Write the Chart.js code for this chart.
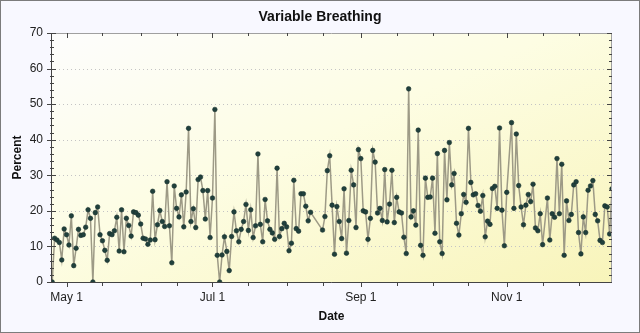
<!DOCTYPE html>
<html><head><meta charset="utf-8">
<script src="https://cdn.jsdelivr.net/npm/chart.js@4.4.1/dist/chart.umd.min.js"></script>
<style>html,body{margin:0;padding:0;background:#f8f8ff;}#wrap{width:640px;height:333px;}</style>
</head><body><div id="wrap"><canvas id="c" width="640" height="333"></canvas></div>
<script>
const dates = [
'04-25','04-26','04-27','04-28','04-29','04-30',
'05-01','05-02','05-03','05-04','05-05','05-06','05-07','05-08','05-09','05-10','05-11','05-12','05-13','05-14','05-15','05-16','05-17','05-18','05-19','05-20','05-21','05-22','05-23','05-24','05-25','05-26','05-27','05-28','05-29','05-30','05-31',
'06-01','06-02','06-03','06-04','06-05','06-06','06-07','06-08','06-09','06-10','06-11','06-12','06-13','06-14','06-15','06-16','06-17','06-18','06-19','06-20','06-21','06-22','06-23','06-24','06-25','06-26','06-27','06-28','06-29','06-30',
'07-01','07-02','07-03','07-04','07-05','07-06','07-07','07-08','07-09','07-10','07-11','07-12','07-13','07-14','07-15','07-16','07-17','07-18','07-19','07-20','07-21','07-22','07-23','07-24','07-25','07-26','07-27','07-28','07-29','07-30','07-31',
'08-01','08-02','08-03','08-04','08-05','08-06','08-07','08-08','08-09','08-10','08-11','08-16','08-17','08-18','08-19','08-20','08-21','08-22','08-23','08-24','08-25','08-26','08-27','08-28','08-29','08-30','08-31',
'09-01','09-02','09-03','09-04','09-05','09-06','09-07','09-08','09-09','09-10','09-11','09-12','09-13','09-14','09-15','09-16','09-17','09-18','09-19','09-20','09-21','09-22','09-23','09-24','09-25','09-26','09-27','09-28','09-29','09-30',
'10-01','10-02','10-03','10-04','10-05','10-06','10-07','10-08','10-09','10-10','10-11','10-12','10-13','10-14','10-15','10-16','10-17','10-18','10-19','10-20','10-21','10-22','10-23','10-24','10-25','10-26','10-27','10-28','10-29','10-30','10-31',
'11-01','11-03','11-04','11-05','11-06','11-07','11-08','11-09','11-10','11-11','11-12','11-13','11-14','11-15','11-16','11-18','11-19','11-20','11-21','11-22','11-23','11-24','11-25','11-26','11-27','11-28','11-29','11-30',
'12-01','12-02','12-03','12-04','12-05','12-06','12-07','12-08','12-09','12-10','12-11','12-12','12-13','12-14','12-15'
];
const values = [
0,12.3,11.8,11.1,6.2,14.9,
13.3,10.4,18.6,4.6,9.5,14.8,13.1,13.3,15.4,20.3,17.9,0,19.5,21.1,13.3,11.6,8.9,6.1,13.6,13.3,14.4,18.2,8.7,20.3,8.5,17.9,15.9,12.9,19.7,19.5,18.8,
16.3,12.3,12.1,10.6,11.8,25.5,11.9,16.1,20.1,17.0,15.6,28.2,15.8,5.4,27,20.7,18.3,24.5,15.5,25.3,43.2,17,20.6,15.3,28.8,29.5,25.7,17.7,25.7,12.5,
23.6,48.5,7.5,0,7.6,12.7,8.6,3.2,12.8,19.7,14.4,11.3,14.8,17,21.8,14.5,20.3,12.5,15.8,36,16.2,11.3,23.2,17.2,14.8,13.8,12,32,12.8,15,16.5,
15.5,8.8,10.9,28.6,15,14.3,24.8,24.8,21.3,17.2,19.6,14.6,18.4,31.3,35.5,21.6,7.8,21.2,17,12.2,26.2,8.1,17.3,31.4,27.3,15.3,37.2,
34.7,20,19.7,12,17.9,37,33.7,19.4,20.7,17.3,31.6,16.9,21.9,31.4,16.7,23.8,19.7,19.4,12.6,8,54.3,18.3,20,16,42.7,10.3,7.5,29.2,23.8,23.9,
29.2,13.7,36.1,11.3,8,37,23.1,39.2,27.3,30.5,16.5,13.2,19.2,24.6,22.4,43.2,28,24.5,24.8,21.5,19.9,24.3,12.7,17.1,16.2,26.3,26.9,20.7,43.3,20.2,10.2,
25.2,44.8,20.7,41.6,27.1,21.1,16.1,21.6,24.6,22.6,27.5,15.2,14.4,19.2,10.5,23.6,11.8,19.2,18.2,34.7,19.2,33.1,7.5,22.8,17.3,19,27.3,28.2,
13.9,7.9,18.3,13.9,25.8,27,28.5,19,17.2,11.7,11.1,21.4,21.1,13.5,26.2
];
const xTickDates = ['05-01','05-16','06-01','06-16','07-01','07-16','08-01','08-16','09-01','09-16','10-01','10-16','11-01','11-16','12-01'];
const xTickLabels = {'05-01':'May 1','07-01':'Jul 1','09-01':'Sep 1','11-01':'Nov 1'};
const yTicks = [0,10,20,30,40,50,60,70];
const xRange = ['04-24', '12-15'];

function doy(s){const [m,d]=s.split('-').map(Number);return Math.round((Date.UTC(2010,m-1,d)-Date.UTC(2010,0,1))/864e5)+1;}
const labelByDoy = {};
Object.keys(xTickLabels).forEach(k=>labelByDoy[doy(k)]=xTickLabels[k]);
const points = dates.map((d,i)=>({x:doy(d),y:values[i]}));
const FONT = 'Liberation Sans, Arial, sans-serif';

const frame = {
  id:'frame',
  beforeDraw(chart){
    const {ctx, chartArea:a, width, height} = chart;
    ctx.save();
    ctx.fillStyle='#f8f8ff'; ctx.fillRect(0,0,width,height);
    const w=a.right-a.left, h=a.bottom-a.top;
    const L=h*h+w*w, t=(2*w*h)/L;
    const g=ctx.createLinearGradient(a.left,a.top,a.left+h*t,a.top+w*t);
    g.addColorStop(0,'#fdfdfd'); g.addColorStop(0.45,'#fdfde3'); g.addColorStop(1,'#f8f4ba');
    ctx.fillStyle=g; ctx.fillRect(a.left,a.top,w,h);
    ctx.strokeStyle='#7c7c7c'; ctx.lineWidth=1; ctx.strokeRect(0.5,0.5,width-1,height-1);
    const y=chart.scales.y;
    ctx.strokeStyle='#c4c4c4'; ctx.setLineDash([1,3]);
    yTicks.forEach(v=>{ if(v<=0||v>=70) return; const py=Math.round(y.getPixelForValue(v))+0.5;
      ctx.beginPath(); ctx.moveTo(a.left,py); ctx.lineTo(a.right,py); ctx.stroke(); });
    ctx.restore();
  },
  afterDraw(chart){
    const {ctx, chartArea:a, scales:{x,y}} = chart;
    ctx.save(); ctx.lineWidth=1;
    ctx.strokeStyle='#a0a0a0';
    ctx.beginPath(); ctx.moveTo(a.left,a.top+0.5); ctx.lineTo(a.right,a.top+0.5);
    ctx.moveTo(a.right-0.5,a.top); ctx.lineTo(a.right-0.5,a.bottom); ctx.stroke();
    ctx.strokeStyle='#444';
    ctx.beginPath(); ctx.moveTo(a.left+0.5,a.top); ctx.lineTo(a.left+0.5,a.bottom+0.5);
    ctx.lineTo(a.right,a.bottom+0.5); ctx.stroke();
    ctx.beginPath();
    for(let v=0; v<=70; v+=2){
      const py=Math.round(y.getPixelForValue(v))+0.5, major=v%10===0;
      if(major){ctx.moveTo(a.left-4,py);ctx.lineTo(a.left+5,py);ctx.moveTo(a.right-5,py);ctx.lineTo(a.right,py);}
      else {ctx.moveTo(a.left-1,py);ctx.lineTo(a.left+3,py);ctx.moveTo(a.right-3,py);ctx.lineTo(a.right,py);}
    }
    xTickDates.forEach(d=>{
      const px=Math.round(x.getPixelForValue(doy(d)))+0.5, major=!!xTickLabels[d];
      ctx.moveTo(px,a.bottom); ctx.lineTo(px,a.bottom+(major?5:4));
      ctx.moveTo(px,a.top); ctx.lineTo(px,a.top+(major?5:3));
    });
    ctx.stroke();
    ctx.restore();
  }
};

new Chart(document.getElementById('c'), {
  type:'line',
  data:{datasets:[{data:points, borderColor:'#9d9a86', borderWidth:1.5, pointRadius:2.3,
    pointBackgroundColor:'#20403c', pointBorderColor:'#18302e', pointBorderWidth:0.6, tension:0}]},
  options:{
    responsive:false, animation:false,
    layout:{padding:0},
    plugins:{legend:{display:false}, tooltip:{enabled:false},
      title:{display:true, text:'Variable Breathing', color:'#111',
        font:{family:FONT, size:14, weight:'bold'}, padding:{top:9,bottom:7.2}}},
    scales:{
      x:{type:'linear', min:doy(xRange[0])+0.5, max:doy(xRange[1]),
        afterBuildTicks:s=>{s.ticks=xTickDates.map(d=>({value:doy(d)}));},
        afterFit:s=>{s.height=51;},
        grid:{display:false, drawTicks:false}, border:{display:false},
        ticks:{autoSkip:false, maxRotation:0, padding:8, color:'#222',
          font:{family:FONT, size:12},
          callback:v=>labelByDoy[v]||''},
        title:{display:true, text:'Date', color:'#111', font:{family:FONT, size:12, weight:'bold'}, padding:{top:0,bottom:8.8}}},
      y:{min:0, max:70, afterBuildTicks:s=>{s.ticks=yTicks.map(v=>({value:v}));},
        afterFit:s=>{s.width=51;},
        grid:{display:false, drawTicks:false}, border:{display:false},
        ticks:{padding:8, color:'#222', font:{family:FONT, size:12}},
        title:{display:true, text:'Percent', color:'#111', font:{family:FONT, size:12, weight:'bold'}, padding:{top:10,bottom:0}}},
      yRight:{position:'right', min:0, max:70, afterFit:s=>{s.width=28;},
        grid:{display:false, drawTicks:false}, border:{display:false},
        ticks:{display:false}}
    }
  },
  plugins:[frame]
});
</script></body></html>
